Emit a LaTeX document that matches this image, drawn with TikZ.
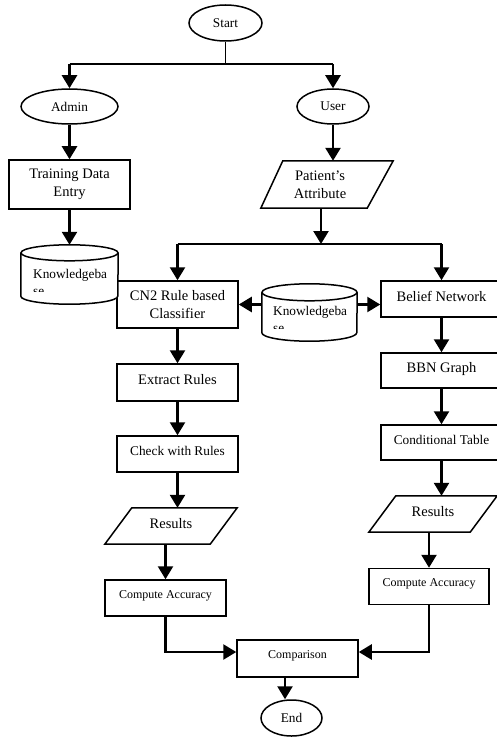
\documentclass[tikz,border=0pt]{standalone}
\usepackage{fontspec}
\setmainfont{Liberation Serif}
\usetikzlibrary{arrows.meta,shapes.geometric}
\newcommand\fntA{\fontsize{14.5pt}{18pt}\selectfont}
\newcommand\fntB{\fontsize{13.3pt}{16pt}\selectfont}
\newcommand\fntC{\fontsize{12pt}{14pt}\selectfont}
\newcommand\cylshape[3]{%
  \fill[white] ([yshift=-#3]#1.north west) -- ([yshift=#3]#1.south west)
    arc[start angle=180,end angle=360,x radius=#2,y radius=#3]
    -- ([yshift=-#3]#1.north east) -- cycle;
  \draw[line width=1.5pt] ([yshift=-#3]#1.north west) -- ([yshift=#3]#1.south west)
    arc[start angle=180,end angle=360,x radius=#2,y radius=#3]
    -- ([yshift=-#3]#1.north east);
  \draw[line width=1.5pt, fill=white] ([yshift=-#3]#1.north) ellipse[x radius=#2, y radius=#3];
}
\begin{document}
\begin{tikzpicture}[x=1pt,y=-1pt,
  box/.style={draw, line width=1.5pt, inner sep=0pt, align=center},
  rbox/.style={box, shape=rectangle},
  ell/.style={box, shape=ellipse},
  ghost/.style={inner sep=0pt, align=center},
  upA/.style={font=\fntA, text height=10pt, text depth=6pt},
  upB/.style={font=\fntB, text height=9pt, text depth=6pt},
  upC/.style={font=\fntC, text height=8pt, text depth=8pt},
  arr/.style={line width=2.5pt, -{Triangle[length=13pt,width=15pt]}},
  thk/.style={line width=2.5pt},
  para/.style={line width=1.5pt}
  ]
\useasboundingbox (0,0) rectangle (497,738);

% nodes
\node[ell, minimum width=73pt, minimum height=36pt, font=\fntB] (start) at (225.5,23) {Start};
\node[ell, minimum width=97pt, minimum height=35pt, font=\fntB] (admin) at (69.5,106.5) {Admin};
\node[ell, minimum width=72pt, minimum height=35pt, font=\fntB] (user) at (333,106.5) {User};
\node[rbox, minimum width=121pt, minimum height=49pt, font=\fntA] (train) at (69.5,184.5) {Training Data\\Entry};

\node[ghost, minimum width=132pt, minimum height=47pt] (pat) at (327,184.5) {};
\draw[para] ([xshift=22pt]pat.north west) -- (pat.north east) -- ([xshift=-26pt]pat.south east) -- (pat.south west) -- cycle;
\node[font=\fntA, align=center, inner sep=0pt] (patt) at ([xshift=-7pt]pat.center) {Patient’s\\Attribute};

\node[rbox, minimum width=121pt, minimum height=47pt, font=\fntA] (cn2) at (177.5,304.5) {CN2 Rule based\\Classifier};
\node[rbox, minimum width=121pt, minimum height=36pt, upA] (bel) at (441.5,299) {Belief Network};
\node[rbox, minimum width=121pt, minimum height=37pt, upA] (ext) at (177.5,382.5) {Extract Rules};
\node[rbox, minimum width=121pt, minimum height=36pt, upB] (chk) at (177.5,454) {Check with Rules};
\node[rbox, minimum width=121pt, minimum height=35pt, upA] (bbn) at (441.5,370.5) {BBN Graph};
\node[rbox, minimum width=121pt, minimum height=35pt, upB] (cond) at (441.5,442.5) {Conditional Table};

\node[ghost, minimum width=132pt, minimum height=36pt, upA] (res1) at (171,526) {Results};
\draw[para] ([xshift=27pt]res1.north west) -- (res1.north east) -- ([xshift=-27pt]res1.south east) -- (res1.south west) -- cycle;
\node[ghost, minimum width=128pt, minimum height=36pt, upA] (res2) at (433,514) {Results};
\draw[para] ([xshift=27pt]res2.north west) -- (res2.north east) -- ([xshift=-27pt]res2.south east) -- (res2.south west) -- cycle;

\node[rbox, minimum width=121pt, minimum height=36pt, upC] (acc1) at (165.5,598) {Compute Accuracy};
\node[rbox, minimum width=120pt, minimum height=36pt, upC] (acc2) at (429,586.5) {Compute Accuracy};
\node[rbox, minimum width=121pt, minimum height=37pt, upC] (cmp) at (297.5,658.5) {Comparison};
\node[ell, minimum width=61pt, minimum height=36pt, font=\fntB] (end) at (291.5,718) {End};

% knowledge base cylinders
\node[ghost, minimum width=97pt, minimum height=59pt] (kb1) at (69.5,274.5) {};
\node[ghost, minimum width=95pt, minimum height=57pt] (kb2) at (309.5,312.5) {};
\cylshape{kb1}{48.5pt}{8pt}
\cylshape{kb2}{47.5pt}{8.5pt}
\node[font=\fntB, anchor=base west, inner sep=0pt] (kb1a) at (33,278.5) {Knowledgeba};
\begin{scope}
  \clip (22,281) rectangle (117,291.5);
  \node[font=\fntB, anchor=base west, inner sep=0pt] (kb1b) at (33,295.5) {se};
\end{scope}
\node[font=\fntB, anchor=base west, inner sep=0pt] (kb2a) at (273,315) {Knowledgeba};
\begin{scope}
  \clip (263,318) rectangle (356,328.5);
  \node[font=\fntB, anchor=base west, inner sep=0pt] (kb2b) at (273,332.5) {se};
\end{scope}

% connectors
\coordinate (hl) at (225.5,64);
\draw[line width=1.5pt] (start.south) -- (hl);
\draw[thk] (admin.north |- hl) -- (user.north |- hl);
\draw[arr] (admin.north |- hl) -- (admin.north);
\draw[arr] (user.north |- hl) -- (user.north);
\draw[arr] (admin.south) -- (train.north);
\draw[arr] (user.south) -- (user.south |- pat.north);
\draw[arr] (train.south) -- (kb1.north);
\coordinate (sp) at (321,244);
\draw[arr] (sp |- pat.south) -- (sp);
\draw[thk] (cn2.north |- sp) -- (bel.north |- sp);
\draw[arr] (cn2.north |- sp) -- (cn2.north);
\draw[arr] (bel.north |- sp) -- (bel.north);
\draw[arr] (kb2.west |- cn2.east) -- (cn2.east);
\draw[arr] (kb2.east |- cn2.east) -- (bel.west |- cn2.east);
\draw[arr] (cn2.south) -- (ext.north);
\draw[arr] (ext.south) -- (chk.north);
\draw[arr] (bel.south) -- (bbn.north);
\draw[arr] (bbn.south) -- (cond.north);
\draw[arr] (chk.south) -- (chk.south |- res1.north);
\draw[arr] (acc1.north |- res1.south) -- (acc1.north);
\draw[arr] (cond.south) -- (cond.south |- res2.north);
\draw[arr] (acc2.north |- res2.south) -- (acc2.north);
\draw[arr] (acc1.south) |- ([yshift=6.5pt]cmp.west);
\draw[arr] (acc2.south) |- ([yshift=6.5pt]cmp.east);
\draw[arr] ([xshift=-12.5pt]cmp.south) -- ([xshift=-12.5pt]cmp.south |- end.north);
\end{tikzpicture}
\end{document}
